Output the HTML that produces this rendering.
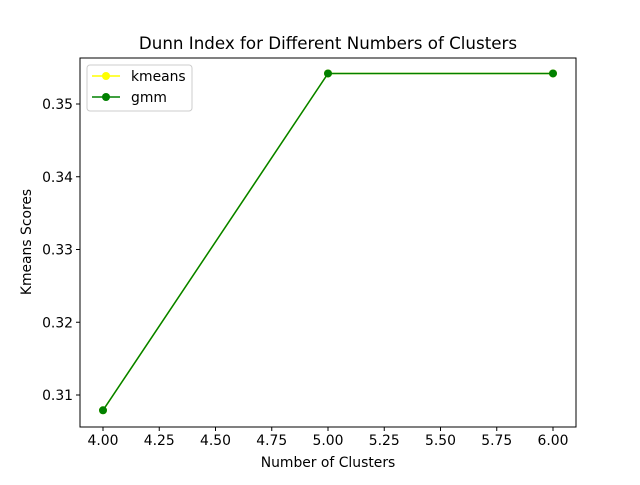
<!DOCTYPE html>
<html><head><meta charset="utf-8"><style>
body{margin:0;background:#fff;}
svg{font-family:"DejaVu Sans","Liberation Sans",sans-serif;}
</style></head><body>
<svg id="chart" width="640" height="480">
<rect width="640" height="480" fill="#fff"/>
<text x="328" y="49" text-anchor="middle" font-size="16.7">Dunn Index for Different Numbers of Clusters</text>
<g id="xt"></g>
<g id="yt"></g>
<g id="series"></g>
<rect x="80" y="58" width="496" height="369" fill="none" stroke="#000" stroke-width="1"/>
<text x="328" y="467" text-anchor="middle" font-size="13.9">Number of Clusters</text>
<text transform="translate(31,242) rotate(-90)" text-anchor="middle" font-size="13.9">Kmeans Scores</text>
<g>
<rect x="87" y="65" width="105" height="46" rx="3" fill="#fff" stroke="#ccc"/>
<g>
<line x1="92" y1="76" x2="120" y2="76" stroke="yellow" stroke-width="1.5"/><circle cx="106" cy="76" r="4" fill="yellow"/>
<text x="131" y="81" font-size="13.9">kmeans</text></g>
<g>
<line x1="92" y1="97" x2="120" y2="97" stroke="green" stroke-width="1.5"/><circle cx="106" cy="97" r="4" fill="green"/>
<text x="131" y="102" font-size="13.9">gmm</text></g>
</g>
</svg>
<script>
const clusters=[4,5,6];
const kmeansScores=[0.3079,0.3542,0.3542];
const gmmScores=[0.3079,0.3542,0.3542];
const xTicks=[4.0,4.25,4.5,4.75,5.0,5.25,5.5,5.75,6.0];
const yTicks=[0.31,0.32,0.33,0.34,0.35];
const NS="http://www.w3.org/2000/svg";
function sx(v){return 103+(v-4)*225;}
function sy(v){return 395-(v-0.31)*7275;}
function mk(tag,attrs,parent){const e=document.createElementNS(NS,tag);for(const k in attrs)e.setAttribute(k,attrs[k]);parent.appendChild(e);return e;}
const xt=document.getElementById('xt'),yt=document.getElementById('yt'),sg=document.getElementById('series');
xTicks.forEach(v=>{const x=sx(v);
const l=mk('line',{x1:x,y1:427,x2:x,y2:431,stroke:'#000'},xt);


const t=mk('text',{x:x,y:445,'text-anchor':'middle','font-size':'13.9'},xt);t.textContent=v.toFixed(2);

});
yTicks.forEach(v=>{const y=sy(v);
const l=mk('line',{x1:76,y1:y,x2:80,y2:y,stroke:'#000'},yt);


const t=mk('text',{x:73,y:y+5,'text-anchor':'end','font-size':'13.9'},yt);t.textContent=v.toFixed(2);

});
function draw(vals,color,name){
const p=mk('polyline',{points:clusters.map((c,i)=>sx(c)+','+sy(vals[i])).join(' '),fill:'none',stroke:color,'stroke-width':1.5},sg);


clusters.forEach((c,i)=>{const m=mk('circle',{cx:sx(c),cy:sy(vals[i]),r:4,fill:color},sg);

});}
draw(kmeansScores,'yellow','kmeans');
draw(gmmScores,'green','gmm');
</script>
</body></html>
